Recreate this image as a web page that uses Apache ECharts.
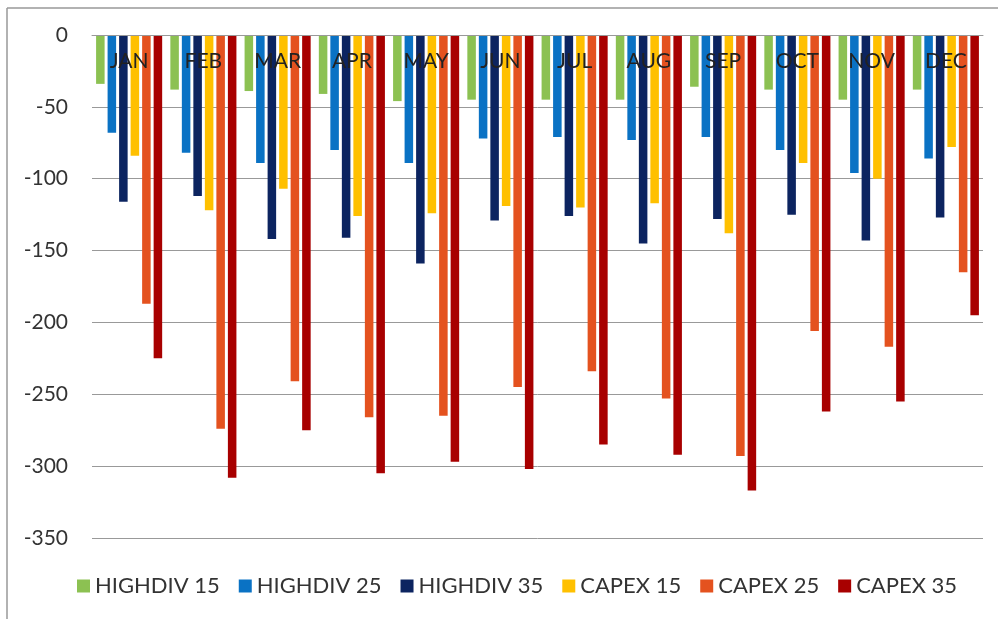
<!DOCTYPE html>
<html>
<head>
<meta charset="utf-8">
<script src="https://cdn.jsdelivr.net/npm/echarts@6/dist/echarts.min.js"></script>
<style>
  html, body { margin: 0; padding: 0; background: #fff; }
  #main { width: 998px; height: 619px; }
</style>
</head>
<body>
<div id="main"></div>
<script>
var months = ['JAN', 'FEB', 'MAR', 'APR', 'MAY', 'JUN', 'JUL', 'AUG', 'SEP', 'OCT', 'NOV', 'DEC'];

var highdiv15 = [-34, -38, -39, -41, -46, -45, -45, -45, -36, -38, -45, -38];
var highdiv25 = [-68, -82, -89, -80, -89, -72, -71, -73, -71, -80, -96, -86];
var highdiv35 = [-116, -112, -142, -141, -159, -129, -126, -145, -128, -125, -143, -127];
var capex15 = [-84, -122, -107, -126, -124, -119, -120, -117, -138, -89, -100, -78];
var capex25 = [-187, -274, -241, -266, -265, -245, -234, -253, -293, -206, -217, -165];
var capex35 = [-225, -308, -275, -305, -297, -302, -285, -292, -317, -262, -255, -195];

var seriesNames = ['HIGHDIV 15', 'HIGHDIV 25', 'HIGHDIV 35', 'CAPEX 15', 'CAPEX 25', 'CAPEX 35'];
var seriesData = [highdiv15, highdiv25, highdiv35, capex15, capex25, capex35];
var colors = ['#8cc152', '#0a72c4', '#0c2460', '#ffc000', '#e4521f', '#a80000'];

var fontFam = 'Lato, "Open Sans", sans-serif';

var chart = echarts.init(document.getElementById('main'));

var series = [];
for (var i = 0; i < seriesNames.length; i++) {
    series.push({
        name: seriesNames[i],
        type: 'bar',
        data: seriesData[i],
        barGap: '35%',
        barCategoryGap: '11%',
        itemStyle: { color: colors[i] }
    });
}

var option = {
    animation: false,
    backgroundColor: '#fff',
    color: colors,
    textStyle: { fontFamily: fontFam },
    grid: { left: 92, right: 15, top: 35, bottom: 81 },
    legend: {
        bottom: 17,
        left: 72,
        itemWidth: 13,
        itemHeight: 13,
        itemGap: 19,
        icon: 'rect',
        textStyle: { fontSize: 22, color: '#333', fontFamily: fontFam },
        data: seriesNames
    },
    graphic: [
        { type: 'line', shape: { x1: 7, y1: 8, x2: 998, y2: 8 }, style: { stroke: '#999', lineWidth: 1.5 } },
        { type: 'line', shape: { x1: 7, y1: 8, x2: 7, y2: 619 }, style: { stroke: '#999', lineWidth: 1.5 } }
    ],
    xAxis: {
        type: 'category',
        data: months,
        position: 'top',
        z: 10,
        axisLine: { lineStyle: { color: '#999' } },
        axisTick: { show: false },
        axisLabel: { inside: true, fontSize: 21, color: '#222', margin: 16, fontFamily: fontFam }
    },
    yAxis: {
        type: 'value',
        min: -350,
        max: 0,
        interval: 50,
        axisLine: { show: false },
        axisTick: { show: false },
        axisLabel: { fontSize: 21, color: '#333', margin: 24, fontFamily: fontFam },
        splitLine: { lineStyle: { color: '#999' } }
    },
    series: series
};

chart.setOption(option);
</script>
</body>
</html>
